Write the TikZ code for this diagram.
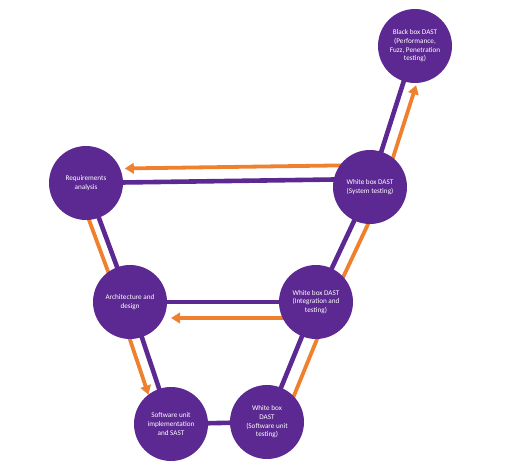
\documentclass[tikz,border=0pt]{standalone}
\usepackage{fontspec}
\setmainfont{Carlito}
\usetikzlibrary{calc,arrows.meta}
\definecolor{vpurple}{RGB}{92,40,145}
\definecolor{vorange}{RGB}{238,128,46}
\begin{document}
\begin{tikzpicture}[x=1pt,y=1pt,
  phase/.style={circle,fill=vpurple,minimum size=74pt,inner sep=0pt,
    text=white,align=center,font=\fontsize{7.2}{8.7}\selectfont},
  link/.style={draw=vpurple,line width=4.6pt},
  flow/.style={draw=vorange,line width=3.8pt},
  flowarrow/.style={flow,-{Triangle[width=10.5pt,length=9pt]}}]
\path[use as bounding box] (0,0) rectangle (518,466);
% node positions (centres)
\coordinate (creq) at (86,283);
\coordinate (carch) at (130,164);
\coordinate (cswu) at (171,42);
\coordinate (cwbu) at (267,44);
\coordinate (cinteg) at (316,164);
\coordinate (csys) at (370,279);
\coordinate (csysl) at (370,287);
\coordinate (cblack) at (415,420);
% orange flow (behind)
\draw[flow] ($(creq)!10pt!-90:(carch)$) -- ($(carch)!10pt!90:(creq)$);
\draw[flowarrow,shorten >=35pt] ($(carch)!12pt!-90:(cswu)$) -- ($(cswu)!12pt!90:(carch)$);
\draw[flow] ($(cwbu)!15pt!-90:(cinteg)$) -- ($(cinteg)!15pt!90:(cwbu)$);
\draw[flow] ($(cinteg)!14pt!-90:(csys)$) -- ($(csys)!14pt!90:(cinteg)$);
\draw[flowarrow,shorten >=37pt] ($(csys)!13pt!-90:(cblack)$) -- ($(cblack)!13pt!90:(csys)$);
\draw[flowarrow,shorten >=39pt] ($(csysl)!14pt!-90:(creq)$) -- ($(creq)!14pt!90:(csysl)$);
\draw[flowarrow,shorten >=41pt] ($(cinteg)!16pt!90:(carch)$) -- ($(carch)!16pt!-90:(cinteg)$);
% purple links
\draw[link] (creq) -- (carch) -- (cswu) -- (cwbu) -- (cinteg) -- (csys) -- (cblack);
\draw[link] (creq) -- (csysl);
\draw[link] (carch) -- (cinteg);
% phases
\node[phase] (req) at (creq) {Requirements\\analysis};
\node[phase] (arch) at (carch) {Architecture and\\design};
\node[phase] (swu) at (cswu) {Software unit\\implementation\\and SAST};
\node[phase] (wbu) at (cwbu) {White box\\DAST\\(Software unit\\testing)};
\node[phase] (integ) at (cinteg) {White box DAST\\(Integration and\\testing)};
\node[phase] (sys) at (csys) {White box DAST\\(System testing)};
\node[phase] (black) at (cblack) {Black box DAST\\(Performance,\\Fuzz, Penetration\\testing)};
\end{tikzpicture}
\end{document}
